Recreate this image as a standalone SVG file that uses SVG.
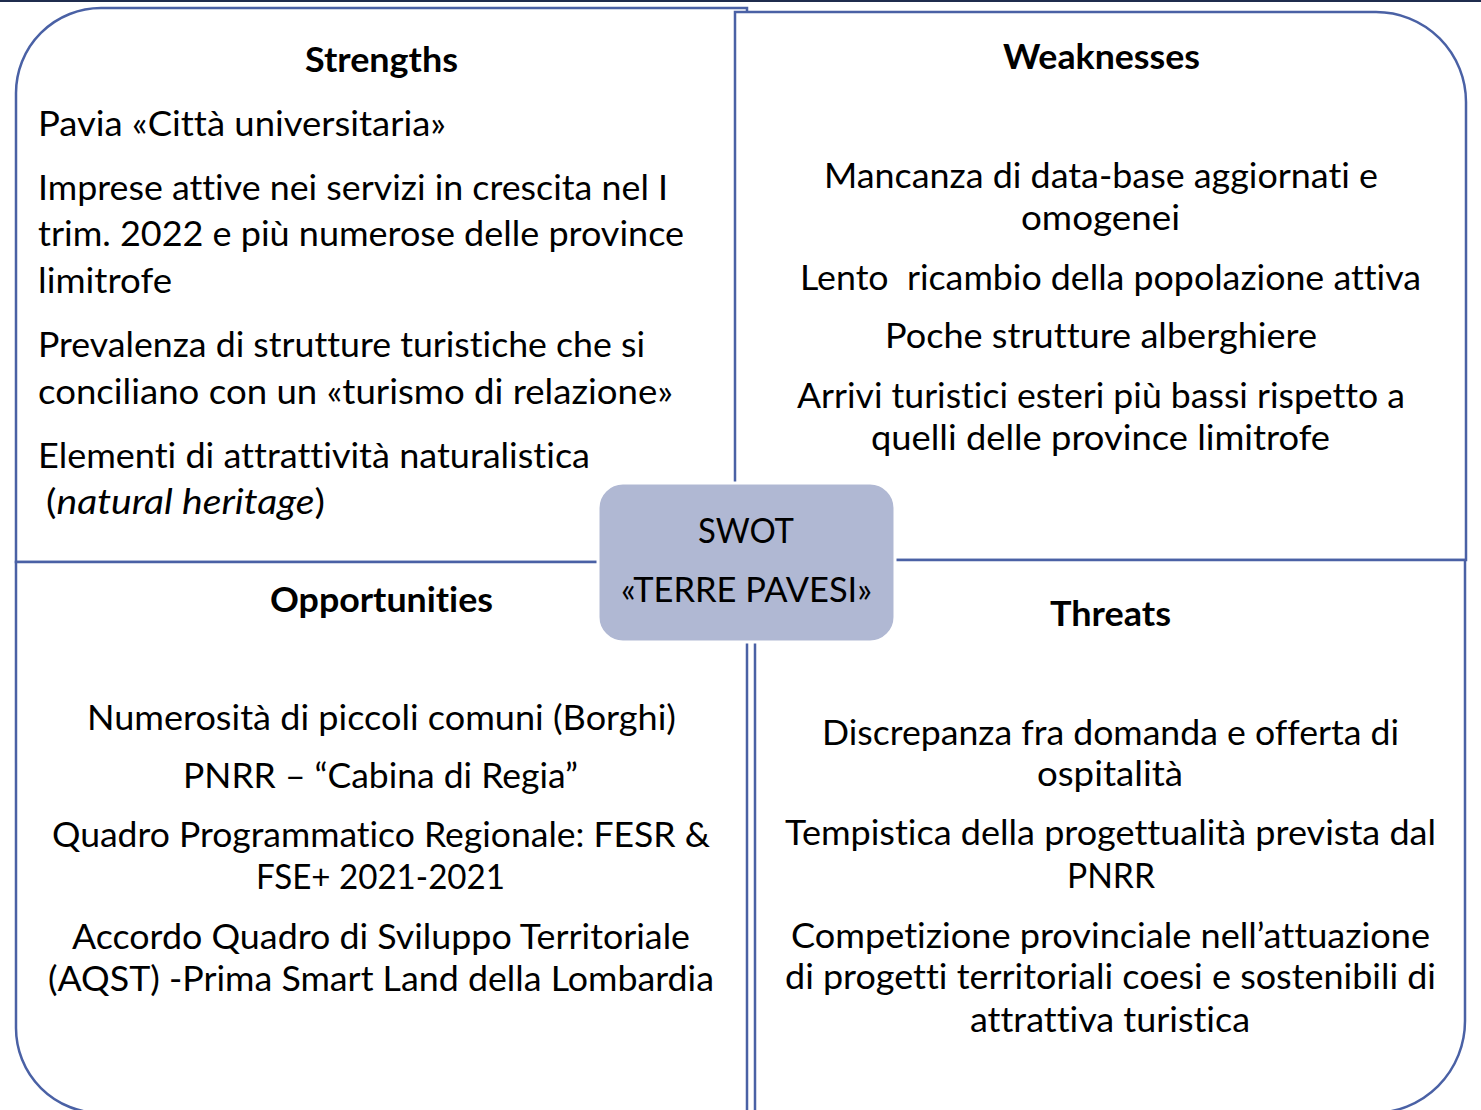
<svg xmlns="http://www.w3.org/2000/svg" width="1481" height="1110" viewBox="0 0 1481 1110">
<style>
.q{fill:#fff;stroke:#4A61A5;stroke-width:2.5}
.t{font-family:Lato,"Open Sans","Liberation Sans",sans-serif;font-size:34px;fill:#000;font-variant-ligatures:none;font-feature-settings:"liga" 0,"clig" 0,"dlig" 0}
.h{font-weight:bold}
</style>
<rect x="0" y="0" width="1481" height="1110" fill="#fff"/>
<rect x="0" y="0" width="1481" height="2" fill="#1F2C4E"/>
<g id="strengths">
<path class="q" d="M16,562 V93 A85,85 0 0 1 101,8 H747 V562 Z"/>
<text class="t h" x="305" y="72" textLength="153" lengthAdjust="spacingAndGlyphs">Strengths</text>
<text class="t" x="38" y="136" textLength="408" lengthAdjust="spacingAndGlyphs">Pavia «Città universitaria»</text>
<text class="t" x="38" y="200" textLength="630" lengthAdjust="spacingAndGlyphs">Imprese attive nei servizi in crescita nel I</text>
<text class="t" x="38" y="246" textLength="646" lengthAdjust="spacingAndGlyphs">trim. 2022 e più numerose delle province</text>
<text class="t" x="38" y="293" textLength="134" lengthAdjust="spacingAndGlyphs">limitrofe</text>
<text class="t" x="38" y="357" textLength="607" lengthAdjust="spacingAndGlyphs">Prevalenza di strutture turistiche che si</text>
<text class="t" x="38" y="404" textLength="635" lengthAdjust="spacingAndGlyphs">conciliano con un «turismo di relazione»</text>
<text class="t" x="38" y="468" textLength="552" lengthAdjust="spacingAndGlyphs">Elementi di attrattività naturalistica</text>
<text class="t" x="46" y="514" textLength="279" lengthAdjust="spacingAndGlyphs">(<tspan font-style="italic">natural heritage</tspan>)</text>
</g>
<g id="weaknesses">
<path class="q" d="M735,12 H1376 A90,90 0 0 1 1466,102 V560 H735 Z"/>
<text class="t h" x="1003" y="69" textLength="197" lengthAdjust="spacingAndGlyphs">Weaknesses</text>
<text class="t" x="824" y="188" textLength="554" lengthAdjust="spacingAndGlyphs">Mancanza di data-base aggiornati e</text>
<text class="t" x="1021" y="230" textLength="159" lengthAdjust="spacingAndGlyphs">omogenei</text>
<text class="t" x="800" y="290" textLength="621" lengthAdjust="spacingAndGlyphs" xml:space="preserve">Lento  ricambio della popolazione attiva</text>
<text class="t" x="885" y="348" textLength="432" lengthAdjust="spacingAndGlyphs">Poche strutture alberghiere</text>
<text class="t" x="797" y="408" textLength="608" lengthAdjust="spacingAndGlyphs">Arrivi turistici esteri più bassi rispetto a</text>
<text class="t" x="871" y="450" textLength="459" lengthAdjust="spacingAndGlyphs">quelli delle province limitrofe</text>
</g>
<g id="opportunities">
<path class="q" d="M16,562 H747 V1113 H101 A85,85 0 0 1 16,1028 Z"/>
<text class="t h" x="270" y="612" textLength="223" lengthAdjust="spacingAndGlyphs">Opportunities</text>
<text class="t" x="87" y="730" textLength="589" lengthAdjust="spacingAndGlyphs">Numerosità di piccoli comuni (Borghi)</text>
<text class="t" x="183" y="788" textLength="395" lengthAdjust="spacingAndGlyphs">PNRR – “Cabina di Regia”</text>
<text class="t" x="52" y="847" textLength="658" lengthAdjust="spacingAndGlyphs">Quadro Programmatico Regionale: FESR &amp;</text>
<text class="t" x="256" y="889" textLength="249" lengthAdjust="spacingAndGlyphs">FSE+ 2021-2021</text>
<text class="t" x="72" y="949" textLength="618" lengthAdjust="spacingAndGlyphs">Accordo Quadro di Sviluppo Territoriale</text>
<text class="t" x="48" y="991" textLength="666" lengthAdjust="spacingAndGlyphs">(AQST) -Prima Smart Land della Lombardia</text>
</g>
<g id="threats">
<path class="q" d="M755,560 H1465 V1021 A92,92 0 0 1 1373,1113 H755 Z"/>
<text class="t h" x="1050" y="626" textLength="121" lengthAdjust="spacingAndGlyphs">Threats</text>
<text class="t" x="822" y="745" textLength="577" lengthAdjust="spacingAndGlyphs">Discrepanza fra domanda e offerta di</text>
<text class="t" x="1037" y="786" textLength="146" lengthAdjust="spacingAndGlyphs">ospitalità</text>
<text class="t" x="785" y="845" textLength="651" lengthAdjust="spacingAndGlyphs">Tempistica della progettualità prevista dal</text>
<text class="t" x="1067" y="888" textLength="88" lengthAdjust="spacingAndGlyphs">PNRR</text>
<text class="t" x="791" y="948" textLength="639" lengthAdjust="spacingAndGlyphs">Competizione provinciale nell’attuazione</text>
<text class="t" x="785" y="989" textLength="651" lengthAdjust="spacingAndGlyphs">di progetti territoriali coesi e sostenibili di</text>
<text class="t" x="970" y="1032" textLength="280" lengthAdjust="spacingAndGlyphs">attrattiva turistica</text>
</g>
<g id="center">
<rect x="598" y="483" width="297" height="159" rx="25" fill="#B0B8D3" stroke="#fff" stroke-width="3"/>
<text class="t" x="698" y="543" textLength="96" lengthAdjust="spacingAndGlyphs">SWOT</text>
<text class="t" x="621" y="602" textLength="251" lengthAdjust="spacingAndGlyphs">«TERRE PAVESI»</text>
</g>
<g id="connectors"></g>
</svg>
